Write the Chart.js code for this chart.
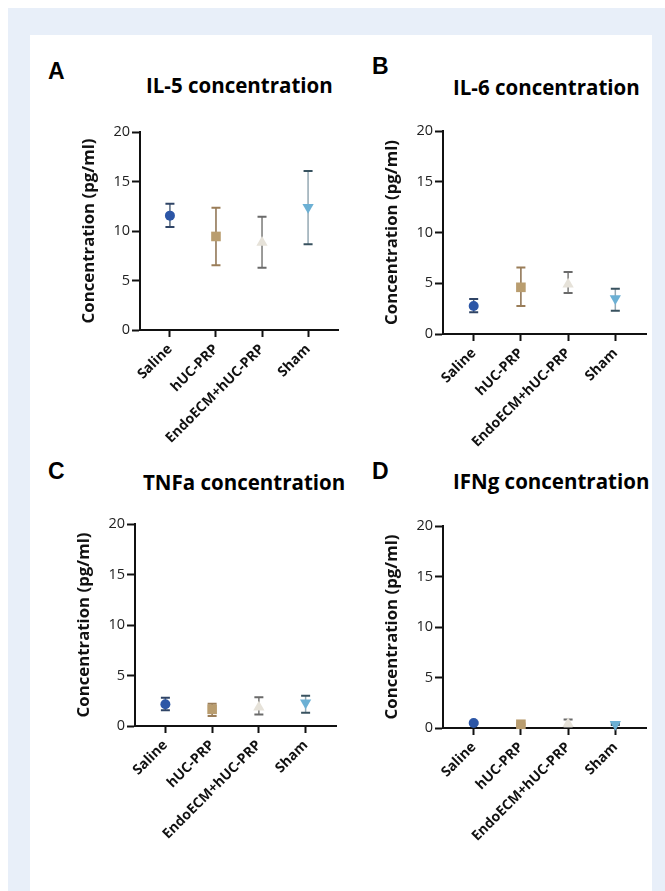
<!DOCTYPE html>
<html>
<head>
<meta charset="utf-8">
<script src="https://cdn.jsdelivr.net/npm/chart.js@4.4.1/dist/chart.umd.min.js"></script>
<style>
  html, body { margin: 0; padding: 0; background: #fff; width: 665px; height: 891px; overflow: hidden; }
  .frame { position: absolute; left: 8px; top: 8px; width: 657px; height: 883px; background: #e8eff9; }
  .sheet { position: absolute; left: 30px; top: 35px; width: 622px; height: 856px; background: #fff; }
  .letter { position: absolute; font: bold 23px "Liberation Sans", Arial, sans-serif; line-height: 1; color: #000; }
  .title { position: absolute; font: bold 20.5px "Open Sans", sans-serif; line-height: 1; color: #000; white-space: nowrap; }
  canvas { position: absolute; }
  #chartA { left: 30px; top: 120px; }
  #chartB { left: 333px; top: 119px; }
  #chartC { left: 25px; top: 512px; }
  #chartD { left: 333px; top: 514px; }
</style>
</head>
<body>
<div class="frame"></div>
<div class="sheet"></div>

<div class="letter" style="left:48px; top:60px;">A</div>
<div class="title" style="left:146px; top:75px;">IL-5 concentration</div>
<div class="letter" style="left:372px; top:55px;">B</div>
<div class="title" style="left:453px; top:77px;">IL-6 concentration</div>
<div class="letter" style="left:48px; top:460px;">C</div>
<div class="title" style="left:143px; top:472px;">TNFa concentration</div>
<div class="letter" style="left:372px; top:460px;">D</div>
<div class="title" style="left:453px; top:471px;">IFNg concentration</div>

<canvas id="chartA" width="320" height="330"></canvas>
<canvas id="chartB" width="325" height="335"></canvas>
<canvas id="chartC" width="323" height="334"></canvas>
<canvas id="chartD" width="325" height="334"></canvas>

<script>
const categories = ["Saline", "hUC-PRP", "EndoECM+hUC-PRP", "Sham"];
const yTicks = [0, 5, 10, 15, 20];

// mean, lower and upper error bar ends per group
const il5Mean = [11.55, 9.45, 8.85, 12.4];
const il5Low = [10.4, 6.55, 6.3, 8.65];
const il5High = [12.75, 12.35, 11.45, 16.05];

const il6Mean = [2.75, 4.6, 4.9, 3.5];
const il6Low = [2.15, 2.75, 4.05, 2.3];
const il6High = [3.45, 6.55, 6.1, 4.45];

const tnfMean = [2.15, 1.65, 1.85, 2.3];
const tnfLow = [1.55, 1.0, 1.15, 1.3];
const tnfHigh = [2.8, 2.2, 2.85, 3.0];

const ifnMean = [0.5, 0.37, 0.42, 0.38];
const ifnLow = [0.4, 0.3, 0.1, 0.3];
const ifnHigh = [0.6, 0.45, 0.84, 0.5];

const markerColors = ["#2c56a6", "#b99d6f", "#e6e2d9", "#6cb0d4"];
const stemColors = ["#55677f", "#8a6e4c", "#7a7a78", "#95a9b3"];
const capColors = ["#2f4466", "#9a7d58", "#6a6a6a", "#38525f"];
const markerStyles = ["circle", "rect", "triangle", "triangle"];
const markerRotation = [0, 0, 0, 180];
const markerRadius = [5, 6.8, 6.5, 6.5];

// draws the SD whiskers under the markers
const errorBars = {
  id: "errorBars",
  beforeDatasetsDraw(chart, args, opts) {
    const { ctx, scales: { x, y } } = chart;
    ctx.save();
    opts.low.forEach((lo, i) => {
      const px = x.getPixelForValue(i);
      const top = y.getPixelForValue(opts.high[i]);
      const bot = y.getPixelForValue(lo);
      ctx.lineWidth = 1.5;
      ctx.strokeStyle = stemColors[i];
      ctx.beginPath();
      ctx.moveTo(px, top);
      ctx.lineTo(px, bot);
      ctx.stroke();
      ctx.lineWidth = 2;
      ctx.strokeStyle = capColors[i];
      ctx.beginPath();
      ctx.moveTo(px - 4.5, top);
      ctx.lineTo(px + 4.5, top);
      ctx.moveTo(px - 4.5, bot);
      ctx.lineTo(px + 4.5, bot);
      ctx.stroke();
    });
    ctx.restore();
  },
};

function makePanel(id, mean, low, high) {
  return new Chart(document.getElementById(id), {
    type: "scatter",
    data: {
      datasets: [
        {
          data: mean.map((v, i) => ({ x: i, y: v })),
          pointStyle: markerStyles,
          pointRotation: markerRotation,
          pointRadius: markerRadius,
          pointBackgroundColor: markerColors,
          pointBorderColor: markerColors,
          pointBorderWidth: 0,
          clip: false,
        },
      ],
    },
    options: {
      responsive: false,
      animation: false,
      events: [],
      layout: { padding: { top: 12, right: 12, left: 0, bottom: 0 } },
      plugins: {
        legend: { display: false },
        tooltip: { enabled: false },
        errorBars: { low, high },
      },
      scales: {
        x: {
          type: "linear",
          min: -0.65,
          max: 3.65,
          afterBuildTicks: (s) => { s.ticks = categories.map((c, i) => ({ value: i })); },
          afterFit: (s) => { s.height = 120; },
          grid: { drawOnChartArea: false, tickLength: 7, tickWidth: 2, tickColor: "#111" },
          border: { color: "#111", width: 2 },
          ticks: {
            autoSkip: false,
            minRotation: 45,
            maxRotation: 45,
            padding: 4,
            color: "#111",
            font: { family: "Open Sans", weight: "bold", size: 14 },
            callback: (v) => categories[v],
          },
        },
        y: {
          min: 0,
          max: 20,
          afterBuildTicks: (s) => { s.ticks = yTicks.map((v) => ({ value: v })); },
          afterFit: (s) => { s.width = 110; },
          grid: { drawOnChartArea: false, tickLength: 8, tickWidth: 2, tickColor: "#111" },
          border: { color: "#111", width: 2 },
          ticks: { padding: 2, color: "#222", font: { family: "Open Sans", size: 14.5 } },
          title: {
            display: true,
            text: "Concentration (pg/ml)",
            color: "#111",
            font: { family: "Open Sans", weight: "bold", size: 16.8 },
            padding: { top: 49 },
          },
        },
      },
    },
    plugins: [errorBars],
  });
}

makePanel("chartA", il5Mean, il5Low, il5High);
makePanel("chartB", il6Mean, il6Low, il6High);
makePanel("chartC", tnfMean, tnfLow, tnfHigh);
makePanel("chartD", ifnMean, ifnLow, ifnHigh);
</script>
</body>
</html>
